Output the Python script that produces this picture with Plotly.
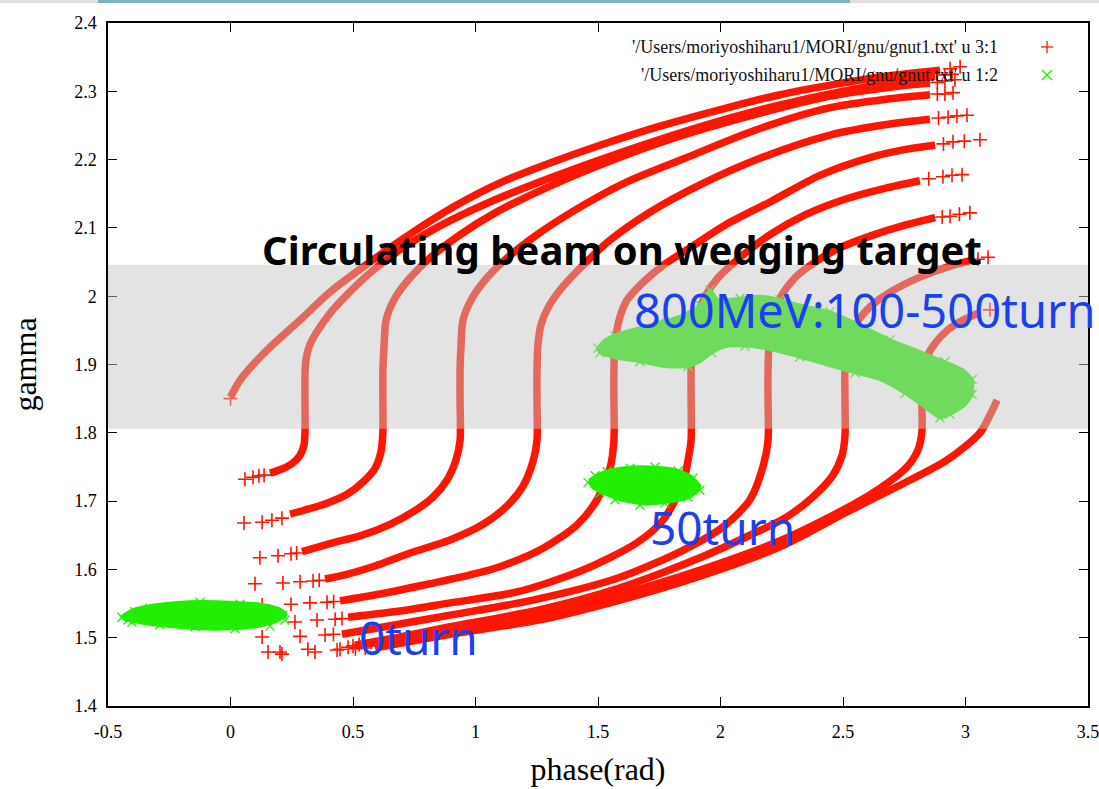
import plotly.graph_objects as go

RED = '#ff1500'
GREEN = '#22ee00'
BLUE = '#1a40f0'
SERIF = 'Liberation Serif'

# ---------------- data (phase [rad], gamma) ----------------
c0_phase = [0.0, 0.039, 0.149, 0.284, 0.406, 0.569, 0.733, 0.916, 1.100, 1.304, 1.508, 1.753, 2.039, 2.243, 2.447, 2.651, 2.814, 2.896]
c0_gamma = [1.852, 1.877, 1.921, 1.965, 2.006, 2.050, 2.091, 2.132, 2.166, 2.195, 2.221, 2.249, 2.277, 2.295, 2.309, 2.321, 2.328, 2.331]

c1_phase = [0.161, 0.210, 0.255, 0.284, 0.300, 0.304, 0.304, 0.304, 0.308, 0.324, 0.353, 0.406, 0.467, 0.569, 0.692, 0.855, 1.059, 1.304, 1.590, 1.916, 2.243, 2.529, 2.733, 2.876]
c1_gamma = [1.741, 1.747, 1.756, 1.767, 1.782, 1.801, 1.848, 1.885, 1.907, 1.929, 1.948, 1.975, 1.999, 2.034, 2.068, 2.103, 2.138, 2.173, 2.210, 2.248, 2.280, 2.302, 2.315, 2.322]

c2_phase = [0.243, 0.304, 0.394, 0.476, 0.541, 0.590, 0.614, 0.622, 0.622, 0.622, 0.627, 0.635, 0.671, 0.733, 0.814, 0.929, 1.080, 1.284, 1.529, 1.814, 2.120, 2.447, 2.692, 2.855]
c2_gamma = [1.681, 1.687, 1.697, 1.710, 1.728, 1.748, 1.772, 1.801, 1.848, 1.892, 1.929, 1.965, 1.997, 2.027, 2.056, 2.088, 2.122, 2.158, 2.195, 2.232, 2.264, 2.293, 2.306, 2.312]

c3_phase = [0.292, 0.418, 0.529, 0.651, 0.753, 0.827, 0.884, 0.920, 0.937, 0.937, 0.937, 0.941, 0.949, 0.986, 1.047, 1.129, 1.243, 1.406, 1.610, 1.855, 2.141, 2.447, 2.692, 2.855]
c3_gamma = [1.626, 1.639, 1.649, 1.666, 1.686, 1.706, 1.731, 1.760, 1.789, 1.848, 1.892, 1.929, 1.965, 1.997, 2.027, 2.056, 2.088, 2.126, 2.166, 2.202, 2.243, 2.276, 2.289, 2.295]

c4_phase = [0.386, 0.467, 0.590, 0.733, 0.896, 1.031, 1.129, 1.194, 1.234, 1.251, 1.251, 1.251, 1.255, 1.267, 1.296, 1.345, 1.427, 1.549, 1.712, 1.916, 2.161, 2.447, 2.692, 2.855]
c4_gamma = [1.586, 1.592, 1.605, 1.624, 1.643, 1.666, 1.693, 1.722, 1.757, 1.789, 1.848, 1.892, 1.929, 1.958, 1.983, 2.009, 2.041, 2.082, 2.123, 2.163, 2.202, 2.236, 2.252, 2.259]

c5_phase = [0.447, 0.610, 0.814, 0.978, 1.100, 1.276, 1.414, 1.496, 1.549, 1.565, 1.565, 1.565, 1.569, 1.586, 1.618, 1.680, 1.761, 1.876, 2.018, 2.202, 2.406, 2.610, 2.773, 2.876]
c5_gamma = [1.554, 1.564, 1.579, 1.592, 1.604, 1.631, 1.665, 1.702, 1.748, 1.789, 1.848, 1.892, 1.929, 1.965, 1.994, 2.019, 2.044, 2.071, 2.104, 2.138, 2.177, 2.203, 2.216, 2.221]

c6_phase = [0.480, 0.692, 0.896, 1.169, 1.439, 1.659, 1.765, 1.847, 1.871, 1.880, 1.880, 1.880, 1.884, 1.900, 1.933, 1.990, 2.080, 2.202, 2.345, 2.508, 2.671, 2.814]
c6_gamma = [1.530, 1.539, 1.551, 1.567, 1.599, 1.639, 1.672, 1.727, 1.767, 1.789, 1.848, 1.892, 1.929, 1.965, 1.997, 2.027, 2.057, 2.090, 2.119, 2.142, 2.158, 2.169]

c7_phase = [0.455, 0.692, 0.896, 1.234, 1.578, 1.847, 2.010, 2.120, 2.173, 2.194, 2.194, 2.194, 2.198, 2.210, 2.243, 2.304, 2.386, 2.488, 2.610, 2.753, 2.876]
c7_gamma = [1.505, 1.520, 1.533, 1.555, 1.587, 1.628, 1.662, 1.702, 1.750, 1.789, 1.848, 1.892, 1.929, 1.965, 1.997, 2.027, 2.050, 2.071, 2.088, 2.104, 2.115]

c8_phase = [0.508, 0.692, 0.896, 1.263, 1.590, 1.916, 2.120, 2.271, 2.377, 2.459, 2.496, 2.508, 2.508, 2.508, 2.516, 2.537, 2.569, 2.618, 2.692, 2.814, 2.937, 3.018]
c8_gamma = [1.489, 1.501, 1.516, 1.541, 1.573, 1.617, 1.650, 1.677, 1.706, 1.738, 1.767, 1.795, 1.848, 1.892, 1.921, 1.946, 1.968, 1.987, 2.006, 2.028, 2.044, 2.052]

c9_phase = [0.549, 0.692, 0.896, 1.263, 1.590, 1.916, 2.243, 2.447, 2.622, 2.761, 2.806, 2.822, 2.822, 2.827, 2.843, 2.876, 2.929, 2.990, 3.051]
c9_gamma = [1.491, 1.497, 1.510, 1.533, 1.563, 1.599, 1.642, 1.677, 1.712, 1.750, 1.775, 1.801, 1.848, 1.885, 1.911, 1.931, 1.951, 1.965, 1.975]

c10_phase = [0.590, 0.896, 1.263, 1.590, 1.916, 2.243, 2.516, 2.720, 2.924, 3.059, 3.100, 3.129]
c10_gamma = [1.485, 1.505, 1.526, 1.555, 1.590, 1.633, 1.684, 1.721, 1.760, 1.800, 1.826, 1.848]

# isolated '+' points at the sparse ends of the curves
sparse_phase = [0.0, 2.937, 2.978,
                0.059, 0.092, 0.116, 0.137, 2.916, 2.945,
                0.055, 0.129, 0.169, 0.210, 2.885, 2.916, 2.957,
                0.120, 0.194, 0.247, 0.270, 2.885, 2.916, 2.949,
                0.100, 0.214, 0.284, 0.337, 0.362, 2.890, 2.929, 2.965, 3.006,
                0.129, 0.247, 0.324, 0.394, 0.421, 2.910, 2.949, 2.995, 3.059,
                0.263, 0.353, 0.427, 0.455, 2.850, 2.908, 2.945, 2.986,
                0.129, 0.284, 0.386, 0.420, 2.905, 2.937, 2.975, 3.018,
                0.153, 0.316, 0.447, 0.480, 3.051, 3.092,
                0.202, 0.345, 0.500, 0.525, 3.100,
                0.210, 0.435, 0.510, 0.550]
sparse_gamma = [1.850, 2.333, 2.336,
                1.732, 1.735, 1.737, 1.738, 2.324, 2.325,
                1.668, 1.669, 1.672, 1.675, 2.313, 2.315, 2.317,
                1.617, 1.620, 1.623, 1.624, 2.296, 2.296, 2.298,
                1.579, 1.580, 1.582, 1.583, 1.584, 2.261, 2.262, 2.264, 2.265,
                1.548, 1.549, 1.551, 1.552, 1.553, 2.223, 2.226, 2.227, 2.229,
                1.523, 1.526, 1.527, 1.528, 2.172, 2.175, 2.177, 2.178,
                1.501, 1.502, 1.504, 1.505, 2.116, 2.117, 2.120, 2.122,
                1.479, 1.483, 1.483, 1.486, 2.054, 2.057,
                1.479, 1.479, 1.488, 1.490, 1.980,
                1.476, 1.482, 1.484, 1.485]

# green bunches (outlines)
blobA_phase = [-0.443, -0.390, -0.288, -0.124, -0.002, 0.120, 0.202, 0.227, 0.194, 0.120, -0.002, -0.124, -0.267, -0.369, -0.431]
blobA_gamma = [1.531, 1.542, 1.549, 1.553, 1.552, 1.549, 1.542, 1.534, 1.525, 1.517, 1.513, 1.513, 1.517, 1.522, 1.527]

blobB_phase = [1.467, 1.529, 1.610, 1.712, 1.814, 1.876, 1.916, 1.876, 1.794, 1.692, 1.590, 1.520, 1.475]
blobB_gamma = [1.731, 1.743, 1.749, 1.750, 1.746, 1.737, 1.721, 1.706, 1.699, 1.696, 1.702, 1.712, 1.721]

blobC_phase = [1.500, 1.529, 1.590, 1.671, 1.753, 1.835, 1.916, 1.957, 1.990, 2.080, 2.161, 2.243, 2.324, 2.447, 2.569, 2.692, 2.814, 2.916, 2.990, 3.027,
               3.027, 2.998, 2.937, 2.896, 2.835, 2.753, 2.651, 2.549, 2.447, 2.324, 2.202, 2.100, 2.018, 1.965, 1.916, 1.867, 1.773, 1.671, 1.569, 1.508]
blobC_gamma = [1.924, 1.936, 1.946, 1.954, 1.962, 1.971, 1.987, 2.009, 1.995, 1.997, 2.000, 1.995, 1.987, 1.977, 1.958, 1.936, 1.919, 1.904, 1.892, 1.878,
               1.856, 1.841, 1.827, 1.822, 1.837, 1.858, 1.878, 1.888, 1.898, 1.911, 1.922, 1.927, 1.926, 1.917, 1.904, 1.897, 1.897, 1.904, 1.910, 1.917]

# scattered 'x' points at the fuzzy edges of the bunches
gx_phase = [-0.443, -0.418, -0.390, -0.329, -0.247, -0.124, 0.039, 0.129, 0.182, 0.214, 0.222, 0.161, 0.018, -0.145, -0.288, -0.402,
            1.459, 1.488, 1.537, 1.631, 1.733, 1.827, 1.888, 1.916, 1.867, 1.773, 1.671, 1.569, 1.508,
            1.500, 1.569, 1.753, 1.916, 1.957, 2.080, 2.243, 2.447, 2.692, 2.916, 3.027, 3.027, 2.937, 2.896, 2.753, 2.549, 2.324, 2.100, 1.965, 1.867, 1.671, 1.508]
gx_gamma = [1.530, 1.526, 1.538, 1.543, 1.546, 1.552, 1.549, 1.543, 1.538, 1.533, 1.526, 1.517, 1.513, 1.516, 1.519, 1.523,
            1.727, 1.737, 1.743, 1.748, 1.750, 1.744, 1.734, 1.716, 1.706, 1.697, 1.694, 1.702, 1.712,
            1.924, 1.942, 1.962, 1.987, 2.009, 1.997, 1.995, 1.977, 1.936, 1.904, 1.878, 1.856, 1.827, 1.822, 1.858, 1.888, 1.911, 1.927, 1.917, 1.897, 1.904, 1.917]

band_gamma = [1.806, 2.046]

x_tickvals = [-0.5, 0, 0.5, 1, 1.5, 2, 2.5, 3, 3.5]
x_ticktext = ['-0.5', '0', '0.5', '1', '1.5', '2', '2.5', '3', '3.5']
y_tickvals = [1.4, 1.5, 1.6, 1.7, 1.8, 1.9, 2.0, 2.1, 2.2, 2.3, 2.4]
y_ticktext = ['1.4', '1.5', '1.6', '1.7', '1.8', '1.9', '2', '2.1', '2.2', '2.3', '2.4']

legend_labels = ["'/Users/moriyoshiharu1/MORI/gnu/gnut1.txt' u 3:1",
                 "'/Users/moriyoshiharu1/MORI/gnu/gnut.txt' u 1:2"]

# ---------------- figure ----------------
fig = go.Figure()

curves = [(c0_phase, c0_gamma), (c1_phase, c1_gamma), (c2_phase, c2_gamma), (c3_phase, c3_gamma),
          (c4_phase, c4_gamma), (c5_phase, c5_gamma), (c6_phase, c6_gamma), (c7_phase, c7_gamma),
          (c8_phase, c8_gamma), (c9_phase, c9_gamma), (c10_phase, c10_gamma)]
for px, py in curves:
    fig.add_trace(go.Scatter(x=px, y=py, mode='lines',
                             line=dict(color=RED, width=7.5, shape='spline', smoothing=0.8),
                             hoverinfo='skip', showlegend=False))

fig.add_trace(go.Scatter(x=sparse_phase, y=sparse_gamma, mode='markers',
                         marker=dict(symbol='cross-thin', size=10, line=dict(width=1.6, color=RED)),
                         hoverinfo='skip', showlegend=False))

for bx, by in [(blobA_phase, blobA_gamma), (blobB_phase, blobB_gamma), (blobC_phase, blobC_gamma)]:
    fig.add_trace(go.Scatter(x=bx + [bx[0]], y=by + [by[0]], mode='lines', fill='toself',
                             fillcolor=GREEN, line=dict(color=GREEN, width=3, shape='spline', smoothing=0.6),
                             hoverinfo='skip', showlegend=False))

fig.add_trace(go.Scatter(x=gx_phase, y=gx_gamma, mode='markers',
                         marker=dict(symbol='x-thin', size=9, line=dict(width=1.3, color=GREEN)),
                         hoverinfo='skip', showlegend=False))

shapes = [
    dict(type='rect', xref='paper', yref='y', x0=0, x1=1, y0=band_gamma[0], y1=band_gamma[1],
         fillcolor='rgba(197,197,197,0.48)', line=dict(width=0), layer='above'),
    # thin strip at the very top of the page (screenshot edge)
    dict(type='rect', xref='paper', yref='paper', x0=-0.111, x1=-0.0102, y0=1.0293, y1=1.035,
         fillcolor='#e2e0dc', line=dict(width=0)),
    dict(type='rect', xref='paper', yref='paper', x0=-0.0102, x1=0.7571, y0=1.0293, y1=1.035,
         fillcolor='#7fb1bf', line=dict(width=0)),
    dict(type='rect', xref='paper', yref='paper', x0=0.7571, x1=1.012, y0=1.0293, y1=1.035,
         fillcolor='#e2e0dc', line=dict(width=0)),
    # legend symbols
    dict(type='line', xref='paper', yref='paper', x0=0.9520, x1=0.9643, y0=0.9649, y1=0.9649,
         line=dict(color=RED, width=1.3)),
    dict(type='line', xref='paper', yref='paper', x0=0.9582, x1=0.9582, y0=0.9561, y1=0.9737,
         line=dict(color=RED, width=1.3)),
    dict(type='line', xref='paper', yref='paper', x0=0.9531, x1=0.9633, y0=0.9165, y1=0.9312,
         line=dict(color=GREEN, width=1.3)),
    dict(type='line', xref='paper', yref='paper', x0=0.9531, x1=0.9633, y0=0.9312, y1=0.9165,
         line=dict(color=GREEN, width=1.3)),
]

annotations = [
    dict(text=legend_labels[0], xref='paper', yref='paper', x=0.9102, y=0.9649, xanchor='right', yanchor='middle',
         showarrow=False, font=dict(family=SERIF, size=18, color='#111')),
    dict(text=legend_labels[1], xref='paper', yref='paper', x=0.9102, y=0.9239, xanchor='right', yanchor='middle',
         showarrow=False, font=dict(family=SERIF, size=18, color='#111')),
    dict(text='<b>Circulating beam on wedging target</b>', xref='paper', yref='paper', x=0.5245, y=0.6677,
         xanchor='center', yanchor='middle', showarrow=False, font=dict(family='Noto Sans', size=40, color='black')),
    dict(text='800MeV:100-500turn', xref='paper', yref='paper', x=0.5347, y=0.5798, xanchor='left', yanchor='middle',
         showarrow=False, font=dict(family='Noto Sans', size=47, color=BLUE)),
    dict(text='50turn', xref='paper', yref='paper', x=0.551, y=0.2621, xanchor='left', yanchor='middle',
         showarrow=False, font=dict(family='Noto Sans', size=46, color=BLUE)),
    dict(text='0turn', xref='paper', yref='paper', x=0.2541, y=0.101, xanchor='left', yanchor='middle',
         showarrow=False, font=dict(family='Noto Sans', size=46, color=BLUE)),
]

axis_common = dict(showgrid=False, zeroline=False, showline=True, linecolor='black', linewidth=1.5,
                   mirror='ticks', ticks='inside', ticklen=9, tickwidth=1, tickcolor='black',
                   automargin=False, ticklabeloverflow='allow',
                   tickfont=dict(family=SERIF, size=18, color='black'))

fig.update_layout(
    width=1099, height=789,
    margin=dict(l=108, r=11, t=23, b=83),
    paper_bgcolor='white', plot_bgcolor='white',
    showlegend=False,
    shapes=shapes, annotations=annotations,
    xaxis=dict(range=[-0.5, 3.5], tickvals=x_tickvals, ticktext=x_ticktext, ticklabelstandoff=9,
               title=dict(text='phase(rad)', font=dict(family=SERIF, size=32, color='black'), standoff=16),
               **axis_common),
    yaxis=dict(range=[1.4, 2.4], tickvals=y_tickvals, ticktext=y_ticktext, ticklabelstandoff=6,
               title=dict(text='gamma', font=dict(family=SERIF, size=32, color='black'), standoff=28),
               **axis_common),
)

fig.write_html('out.html')
